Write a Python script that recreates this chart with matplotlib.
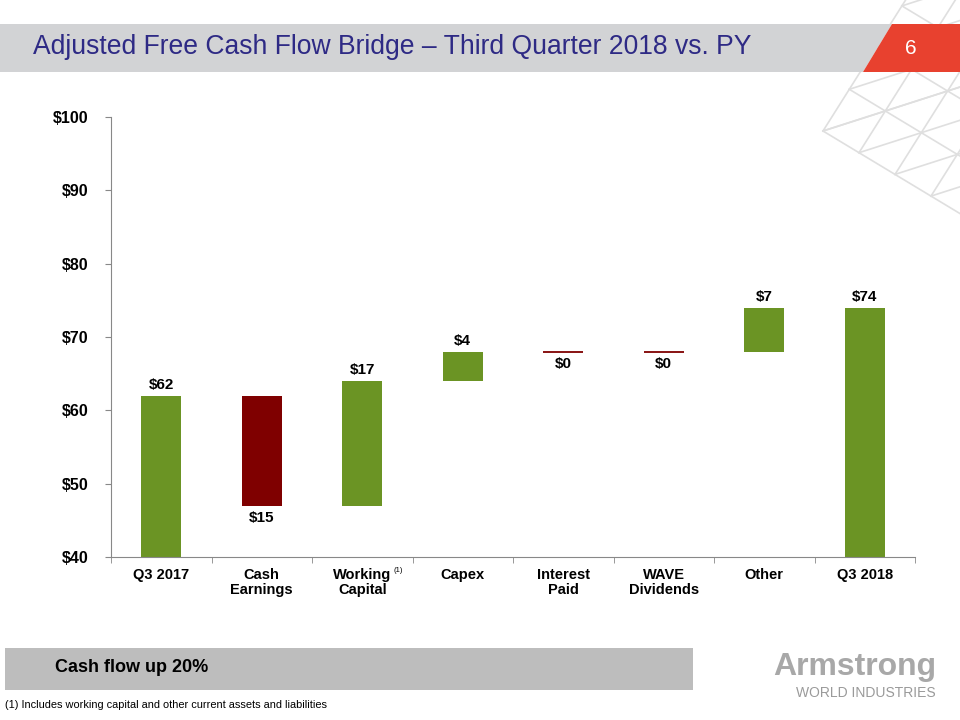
import matplotlib
matplotlib.use("Agg")
import matplotlib.pyplot as plt
from matplotlib.patches import Polygon, Rectangle
from matplotlib.lines import Line2D

# data (in $ millions)
categories = ["Q3 2017", "Cash\nEarnings", "Working\nCapital", "Capex",
              "Interest\nPaid", "WAVE\nDividends", "Other", "Q3 2018"]
start_value = 62
changes = [-15, 17, 4, 0, 0, 6]
end_value = 74
value_labels = ["$62", "$15", "$17", "$4", "$0", "$0", "$7", "$74"]
y_ticks = [40, 50, 60, 70, 80, 90, 100]

GREEN = "#6B9424"
RED = "#7F0000"
FONT = ["Liberation Sans", "DejaVu Sans"]

W, H = 960, 720


def fx(x):
    return x / W


def fy(y):
    return 1 - y / H


def main():
    fig = plt.figure(figsize=(9.6, 7.2), dpi=100)

    # decorative triangle lattice, top right
    ox, oy = 823, 131
    u = (36.0, 21.7)
    v = (26.3, -41.7)
    n = 7
    def pt(i, j):
        return (ox + i * u[0] + j * v[0], oy + i * u[1] + j * v[1])
    segs = []
    for j in range(n):
        segs.append((pt(0, j), pt(n, j)))
    for i in range(n):
        segs.append((pt(i, 0), pt(i, n)))
    for k in range(n):
        segs.append((pt(k, 0), pt(k + n, n)))
        segs.append((pt(0, k), pt(n, k + n)))
    for (x0, y0), (x1, y1) in segs:
        fig.add_artist(Line2D([fx(x0), fx(x1)], [fy(y0), fy(y1)],
                              transform=fig.transFigure, color="#DFDFDF", lw=1.2, zorder=0))

    # header band
    fig.add_artist(Polygon([(fx(0), fy(24)), (fx(892), fy(24)), (fx(863), fy(72)), (fx(0), fy(72))],
                           closed=True, transform=fig.transFigure, facecolor="#D2D3D5",
                           edgecolor="none", zorder=1))
    fig.add_artist(Polygon([(fx(892), fy(24)), (fx(960), fy(24)), (fx(960), fy(72)), (fx(863), fy(72))],
                           closed=True, transform=fig.transFigure, facecolor="#E8412F",
                           edgecolor="none", zorder=1))
    fig.text(fx(33), fy(47), "Adjusted Free Cash Flow Bridge \u2013 Third Quarter 2018 vs. PY",
             family=FONT, fontsize=19.1, color="#2E2A85", va="center", ha="left", zorder=2)
    fig.text(fx(911), fy(48), "6", family=FONT, fontsize=15, color="white",
             va="center", ha="center", zorder=2)

    # chart
    ax = fig.add_axes([fx(111), fy(557), fx(915) - fx(111), fy(117) - fy(557)])
    ax.patch.set_alpha(0)
    x = list(range(len(categories)))
    running = start_value
    bottoms, heights = [0], [start_value]
    for c in changes:
        new = running + c
        bottoms.append(min(running, new))
        heights.append(abs(c))
        running = new
    bottoms.append(0)
    heights.append(end_value)

    for i in x:
        if i == 0 or i == len(x) - 1:
            color = GREEN
            delta = 1
        else:
            delta = changes[i - 1]
            color = GREEN if delta > 0 else RED
        if heights[i] == 0:
            ax.hlines(bottoms[i], i - 0.2, i + 0.2, color=RED, lw=1.3)
        else:
            ax.bar(i, heights[i], bottom=bottoms[i], width=0.4, color=color)
        if delta > 0:
            ax.annotate(value_labels[i], (i, bottoms[i] + heights[i]), xytext=(0, 3),
                        textcoords="offset points", ha="center", va="bottom",
                        fontsize=11, fontweight="bold", family=FONT)
        else:
            ax.annotate(value_labels[i], (i, bottoms[i]), xytext=(0, -4),
                        textcoords="offset points", ha="center", va="top",
                        fontsize=11, fontweight="bold", family=FONT)

    ax.set_xlim(-0.5, len(x) - 0.5)
    ax.set_ylim(40, 100)
    ax.set_yticks(y_ticks)
    ax.set_yticklabels(["$%d" % t for t in y_ticks], fontsize=11.5, fontweight="bold", family=FONT)
    ax.set_xticks(x)
    ax.set_xticklabels(categories, fontsize=10.5, fontweight="bold", family=FONT, linespacing=1.05)
    ax.set_xticks([i - 0.5 for i in range(len(x) + 1)], minor=True)
    ax.tick_params(axis="x", which="major", length=0, pad=8)
    ax.tick_params(axis="x", which="minor", length=4, color="#888888", direction="out")
    ax.tick_params(axis="y", length=4, color="#888888", pad=12)
    for s in ["top", "right"]:
        ax.spines[s].set_visible(False)
    for s in ["left", "bottom"]:
        ax.spines[s].set_color("#888888")
    fig.text(fx(393), fy(571), "(1)", fontsize=5.5, family=FONT, ha="left", va="center")

    # bottom box and footnote
    fig.add_artist(Rectangle((fx(5), fy(690)), fx(688), fy(648) - fy(690),
                             transform=fig.transFigure, facecolor="#BDBDBD", edgecolor="none"))
    fig.text(fx(55), fy(668), "Cash flow up 20%", fontsize=13, fontweight="bold",
             family=FONT, va="center", ha="left")
    fig.text(fx(5), fy(705), "(1) Includes working capital and other current assets and liabilities",
             fontsize=7.9, family=FONT, va="center", ha="left")

    # logo text
    fig.text(fx(855), fy(667), "Armstrong", fontsize=23, fontweight="bold", color="#A8A8A8",
             family=FONT, va="center", ha="center")
    fig.text(fx(866), fy(693), "WORLD INDUSTRIES", fontsize=10, color="#9A9A9A",
             family=FONT, va="center", ha="center")

    fig.savefig("out.png", dpi=100)
    plt.close(fig)


if __name__ == "__main__":
    main()
